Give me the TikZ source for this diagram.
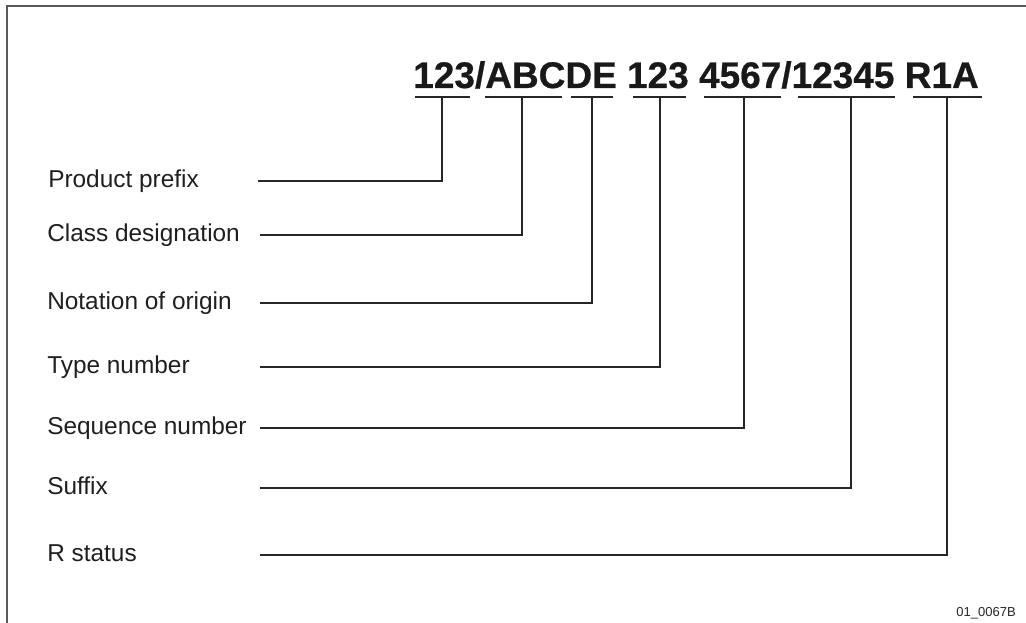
\documentclass[tikz,border=0pt]{standalone}
\usepackage{fontspec}
\setmainfont{Liberation Sans}
\newfontfamily\codefont{Liberation Sans Bold}[FakeBold=0.6]
\begin{document}
\begin{tikzpicture}[x=0.75pt,y=-0.75pt,
  codetext/.style={inner sep=0pt,anchor=base west,text=black!90,font=\codefont\fontsize{27.75pt}{30pt}\selectfont},
  lbl/.style={inner sep=0pt,anchor=base west,text=black!88,font=\fontsize{18.3pt}{20pt}\selectfont},
  uline/.style={line width=1.8pt,draw=black!85},
  leader/.style={line width=1.1pt,draw=black!85},
  frameline/.style={line width=1.5pt,draw=black!65}]
\useasboundingbox (0,0) rectangle (1026,623);
\draw[frameline] (7,623) -- (7,6) -- (1026,6);
\node[codetext] (code) at (413,88) {123/ABCDE 123 4567/12345 R1A};
% underlines
\foreach \a/\b/\n in {415/470/1,485/562/2,571/613/3,633/686/4,704/781/5,798/895/6,913/982/7}{
  \draw[uline] (\a,97) -- (\b,97);
}
\coordinate (u1) at (442,97);
\coordinate (u2) at (522,97);
\coordinate (u3) at (592,97);
\coordinate (u4) at (660,97);
\coordinate (u5) at (744,97);
\coordinate (u6) at (851,97);
\coordinate (u7) at (947,97);
% labels
\node[lbl] (l1) at (48,188) {Product prefix};
\node[lbl] (l2) at (47,242) {Class designation};
\node[lbl] (l3) at (47,310) {Notation of origin};
\node[lbl] (l4) at (47,374) {Type number};
\node[lbl] (l5) at (47,435) {Sequence number};
\node[lbl] (l6) at (47,495) {Suffix};
\node[lbl] (l7) at (47,562) {R status};
\coordinate (s1) at (258,181);
\coordinate (s2) at (260,235);
\coordinate (s3) at (260,303);
\coordinate (s4) at (260,367);
\coordinate (s5) at (260,428);
\coordinate (s6) at (260,488);
\coordinate (s7) at (260,555);
\foreach \i in {1,...,7}{
  \draw[leader] (s\i) -| (u\i);
}
\node[inner sep=0pt,anchor=base east,text=black!85,font=\fontsize{9.75pt}{11pt}\selectfont] (ref) at (1016,617) {01\_0067B};
\end{tikzpicture}
\end{document}
